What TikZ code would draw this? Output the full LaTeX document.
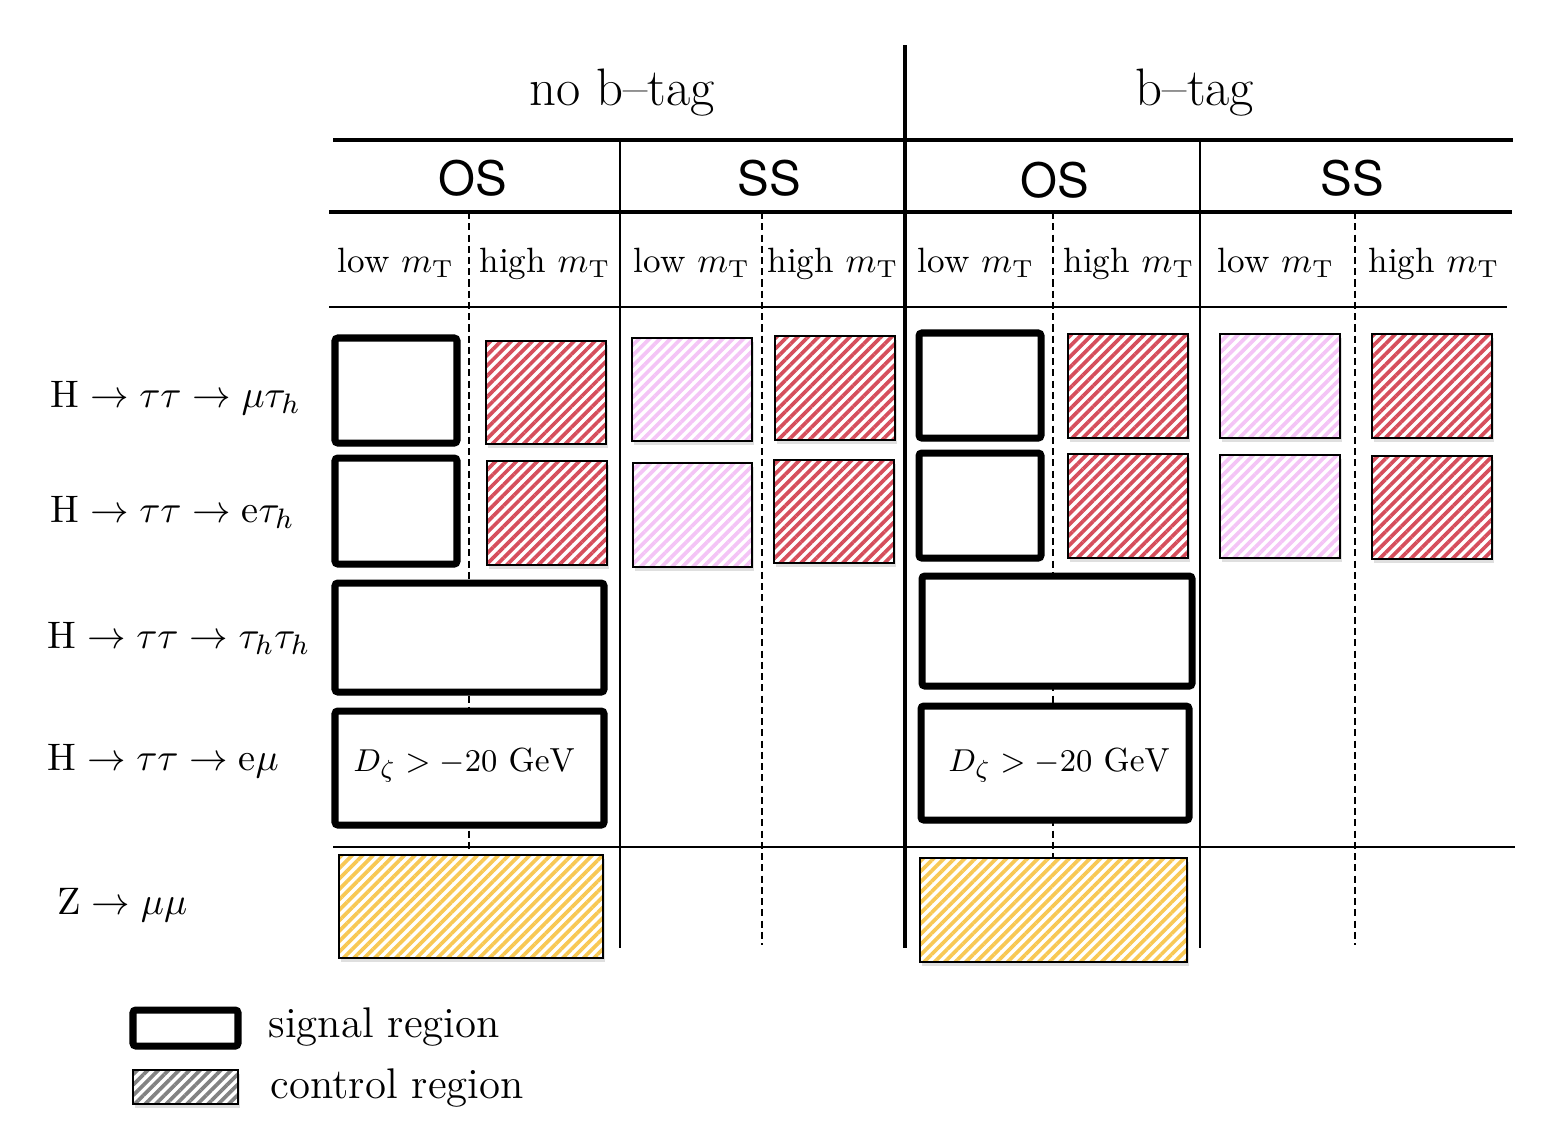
\documentclass[tikz,border=0pt]{standalone}
\usepackage{amsmath}
\usepackage{amsfonts}
\usepackage{amssymb}
\usepackage{fontspec}
\newfontfamily\heros{TeX Gyre Heros}
\usepackage{tikz}
\usepackage{xcolor}
\usetikzlibrary{patterns.meta,shadows}

\definecolor{crred}{RGB}{214,78,92}
\definecolor{crpink}{RGB}{244,196,246}
\definecolor{cryellow}{RGB}{248,200,84}
\definecolor{crgray}{RGB}{130,130,130}

\tikzset{
    softshadow/.style={drop shadow={opacity=0.25,shadow xshift=0.6pt,shadow yshift=-1pt}},
    sigbox/.style={draw, line width=2pt, fill=white, rounded corners=0.8pt, softshadow},
    crbox/.style={draw, line width=0.7pt, softshadow, preaction={fill=white},
        pattern={Lines[angle=45,distance=2.1pt,line width=1.05pt]}, pattern color=#1},
    thickline/.style={line width=1.4pt},
    thinline/.style={line width=0.7pt},
    dashline/.style={line width=0.7pt, dash pattern=on 2pt off 1.2pt},
    tagtext/.style={anchor=base, font=\fontsize{15}{18}\selectfont},
    signtext/.style={anchor=base, font=\heros\fontsize{13.5}{16}\selectfont},
    mttext/.style={anchor=base, font=\fontsize{10}{12}\selectfont},
    rowtext/.style={anchor=base west, inner sep=0pt, font=\fontsize{10.9}{13}\selectfont},
    legtext/.style={anchor=base west, inner sep=0pt, font=\fontsize{12.2}{15}\selectfont}
}

\begin{document}
\begin{tikzpicture}[x=0.1mm,y=-0.1mm]
    \useasboundingbox (0,0) rectangle (1544,1124);

    % table lines
    \draw[thickline] (905,45) -- (905,948);
    \draw[thickline] (333,140) -- (1513,140);
    \draw[thickline] (329,212) -- (1512,212);
    \draw[thinline] (329,307) -- (1507,307);
    \draw[thinline] (333,847) -- (1515,847);
    \foreach \x in {620,1200}
        \draw[thinline] (\x,140) -- (\x,948);
    \foreach \x/\yend in {469/852,762/945,1053/858,1355/945}
        \draw[dashline] (\x,212) -- (\x,\yend);

    % headers
    \node[tagtext] (nobtag) at (622,105) {no b--tag};
    \node[tagtext] (btag) at (1195,105) {b--tag};
    \node[signtext] (os1) at (473,195) {OS};
    \node[signtext] (ss1) at (769,195) {SS};
    \node[signtext] (os2) at (1055,197) {OS};
    \node[signtext] (ss2) at (1352,195) {SS};
    \foreach \x/\t [count=\i] in {396/low,545/high,692/low,833/high,976/low,1129/high,1276/low,1434/high}
        \node[mttext] (mt\i) at (\x,272) {\t{} $m_\mathrm{T}$};

    % channels
    \node[rowtext] (mutau) at (50,407) {$\mathrm{H}\rightarrow\tau\tau\rightarrow\mu\tau_h$};
    \node[rowtext] (etau) at (50,522) {$\mathrm{H}\rightarrow\tau\tau\rightarrow\mathrm{e}\tau_h$};
    \node[rowtext] (tautau) at (47,648) {$\mathrm{H}\rightarrow\tau\tau\rightarrow\tau_h\tau_h$};
    \node[rowtext] (emu) at (47,770) {$\mathrm{H}\rightarrow\tau\tau\rightarrow\mathrm{e}\mu$};
    \node[rowtext] (zmumu) at (57,914) {$\mathrm{Z}\rightarrow\mu\mu$};

    % no b-tag regions
    \draw[sigbox] (335,338) rectangle (457,443);
    \draw[crbox=crred] (486,341) rectangle (606,444);
    \draw[crbox=crpink] (632,338) rectangle (752,441);
    \draw[crbox=crred] (775,336) rectangle (895,440);
    \draw[sigbox] (335,458) rectangle (457,564);
    \draw[crbox=crred] (487,461) rectangle (607,565);
    \draw[crbox=crpink] (633,463) rectangle (752,567);
    \draw[crbox=crred] (774,460) rectangle (894,563);
    \draw[sigbox] (335,583) rectangle (604,692);
    \draw[sigbox] (335,711) rectangle (604,825);
    \draw[crbox=cryellow] (339,855) rectangle (603,958);

    % b-tag regions
    \draw[sigbox] (919,333) rectangle (1041,438);
    \draw[crbox=crred] (1068,334) rectangle (1188,438);
    \draw[crbox=crpink] (1220,334) rectangle (1340,438);
    \draw[crbox=crred] (1372,334) rectangle (1492,438);
    \draw[sigbox] (919,453) rectangle (1041,558);
    \draw[crbox=crred] (1068,454) rectangle (1188,558);
    \draw[crbox=crpink] (1220,455) rectangle (1340,558);
    \draw[crbox=crred] (1372,456) rectangle (1492,559);
    \draw[sigbox] (922,576) rectangle (1192,686);
    \draw[sigbox] (921,706) rectangle (1189,820);
    \draw[crbox=cryellow] (920,858) rectangle (1187,962);

    \node[font=\fontsize{9.5}{12}\selectfont] (dzeta1) at (464,765) {$D_\zeta > -20~\mathrm{GeV}$};
    \node[font=\fontsize{9.5}{12}\selectfont] (dzeta2) at (1059,765) {$D_\zeta > -20~\mathrm{GeV}$};

    % legend
    \draw[sigbox] (133,1010) rectangle (238,1046);
    \draw[crbox=crgray] (133,1070) rectangle (238,1104);
    \node[legtext] (sigleg) at (268,1037) {signal region};
    \node[legtext] (crleg) at (270,1098) {control region};
\end{tikzpicture}
\end{document}
